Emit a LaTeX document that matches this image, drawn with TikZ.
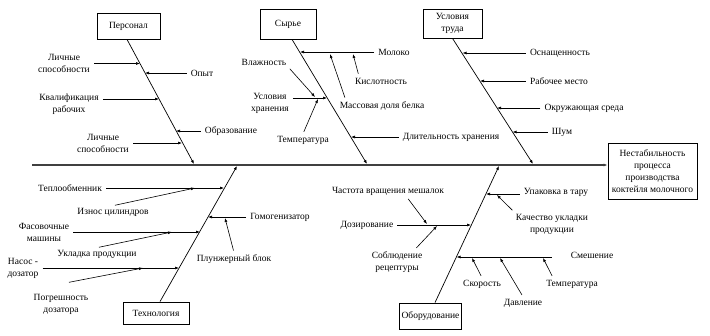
\documentclass[tikz,border=0pt]{standalone}
\usepackage{fontspec}
\setmainfont{Liberation Serif}
\usetikzlibrary{calc,positioning,arrows.meta}

\begin{document}
\begin{tikzpicture}[
    x=1pt, y=-1pt,
    box/.style={rectangle, draw, line width=0.8pt, align=center, fill=white, inner sep=2pt},
    lbl/.style={align=center, inner sep=2pt},
    arrow/.style={-{Latex[length=4pt,width=3pt]}, line width=0.6pt, shorten <=2pt},
    bone/.style={-{Latex[length=4pt,width=3pt]}, line width=0.7pt},
    font=\fontsize{9.5}{12}\selectfont
]
    \useasboundingbox (0,0) rectangle (710,335);

    % Effect and spine
    \node[box, minimum width=89pt, minimum height=56pt] (eff) at (652.5,171) {Нестабильность\\процесса\\производства\\коктейля молочного};
    \coordinate (tail) at (32,165);
    \draw[bone, line width=1.2pt, black!75] (tail) -- (eff.west |- tail);

    % Personnel
    \node[box, minimum width=63pt, minimum height=26pt] (pers) at (128.5,26) {Персонал};
    \coordinate (persEnd) at (194,164);
    \draw[bone] ([xshift=-1.5pt]pers.south) -- (persEnd);

    \node[lbl] (lich1) at (64,63.5) {Личные\\способности};
    \node[lbl] (opyt) at (202,73) {Опыт};
    \node[lbl] (kval) at (69,104) {Квалификация\\рабочих};
    \node[lbl] (obraz) at (231,131) {Образование};
    \node[lbl] (lich2) at (103,143) {Личные\\способности};

    \coordinate (tLich1) at (140,63.5);
    \coordinate (tOpyt) at (145,73);
    \coordinate (tKval) at (159,99);
    \coordinate (tObraz) at (176,131);
    \coordinate (tLich2) at (182,143);
    \draw[arrow] (lich1) -- (tLich1);
    \draw[arrow] (opyt) -- (tOpyt);
    \draw[arrow] (kval.east |- tKval) -- (tKval);
    \draw[arrow] (obraz) -- (tObraz);
    \draw[arrow] (lich2) -- (tLich2);

    % Raw materials
    \node[box, minimum width=56pt, minimum height=30pt] (syr) at (288,24) {Сырье};
    \coordinate (syrEnd) at (367,164);
    \draw[bone] ([xshift=4pt]syr.south) -- (syrEnd);

    \node[lbl] (moloko) at (394,52) {Молоко};
    \node[lbl] (kisl) at (381,81) {Кислотность};
    \node[lbl] (massa) at (382,106) {Массовая доля белка};
    \node[lbl] (vlazh) at (264,62) {Влажность};
    \node[lbl] (uslHr) at (270,103) {Условия\\хранения};
    \node[lbl] (temp1) at (303,140) {Температура};
    \node[lbl] (dlit) at (451,137) {Длительность хранения};

    \coordinate (tMoloko) at (300,52);
    \coordinate (tKisl) at (353,54);
    \coordinate (tMassa) at (330,54);
    \coordinate (tVlazh) at (315,97);
    \coordinate (tUslHr) at (327,98);
    \coordinate (tTemp1) at (318,99);
    \coordinate (tDlit) at (351,137);
    \draw[arrow] (moloko) -- (tMoloko);
    \draw[arrow] ([xshift=6pt]kisl.north west) -- (tKisl);
    \draw[arrow] ([xshift=8pt]massa.north west) -- (tMassa);
    \draw[arrow] (vlazh.south east) -- (tVlazh);
    \draw[arrow] (uslHr.east |- tUslHr) -- (tUslHr);
    \draw[arrow] (temp1.north) -- (tTemp1);
    \draw[arrow] (dlit) -- (tDlit);

    % Working conditions
    \node[box, minimum width=59pt, minimum height=29pt] (uslTr) at (452.5,23.5) {Условия\\труда};
    \coordinate (uslTrEnd) at (533,164);
    \draw[bone] (uslTr.south) -- (uslTrEnd);

    \node[lbl] (osn) at (560,53) {Оснащенность};
    \node[lbl] (rabM) at (559,81) {Рабочее место};
    \node[lbl] (okr) at (584,108) {Окружающая среда};
    \node[lbl] (shum) at (562,132) {Шум};

    \coordinate (tOsn) at (462.5,53);
    \coordinate (tRabM) at (480,81);
    \coordinate (tOkr) at (497,108);
    \coordinate (tShum) at (512.5,132);
    \draw[arrow] (osn) -- (tOsn);
    \draw[arrow] (rabM) -- (tRabM);
    \draw[arrow] (okr) -- (tOkr);
    \draw[arrow] (shum) -- (tShum);

    % Technology
    \node[box, minimum width=66pt, minimum height=22pt] (tech) at (156,313) {Технология};
    \coordinate (techEnd) at (237,166);
    \draw[bone] ([xshift=4pt]tech.north) -- (techEnd);

    \node[lbl] (teplo) at (70,188) {Теплообменник};
    \node[lbl] (iznos) at (113,212) {Износ цилиндров};
    \node[lbl] (fas) at (44,232) {Фасовочные\\машины};
    \node[lbl] (ukl) at (97,254) {Укладка продукции};
    \node[lbl] (nasos) at (23,268) {Насос -\\дозатор};
    \node[lbl] (pogr) at (61,304) {Погрешность\\дозатора};
    \node[lbl] (gomo) at (280,217) {Гомогенизатор};
    \node[lbl] (plunzh) at (234,259) {Плунжерный блок};

    \coordinate (tTeplo) at (224,188);
    \coordinate (tIznos) at (195,188);
    \coordinate (tFas) at (200,232);
    \coordinate (tUkl) at (172,232);
    \coordinate (tNasos) at (179,268);
    \coordinate (tPogr) at (143,268);
    \coordinate (tGomo) at (208,217);
    \coordinate (tPlunzh) at (225,218);
    \draw[arrow] (teplo) -- (tTeplo);
    \draw[arrow] (iznos.north) -- (tIznos);
    \draw[arrow] (fas) -- (tFas);
    \draw[arrow] (ukl.north) -- (tUkl);
    \draw[arrow] (nasos) -- (tNasos);
    \draw[arrow] ([shift={(6,-9)}]pogr.north) -- (tPogr);
    \draw[arrow] (gomo) -- (tGomo);
    \draw[arrow] (plunzh.north) -- (tPlunzh);

    % Equipment
    \node[box, minimum width=59pt, minimum height=26pt] (obor) at (430.5,316) {Оборудование};
    \coordinate (oborEnd) at (499,166);
    \draw[bone] ([xshift=4.5pt]obor.north) -- (oborEnd);

    \node[lbl] (upak) at (556,192) {Упаковка в тару};
    \node[lbl] (kach) at (552,224) {Качество укладки\\продукции};
    \node[lbl] (chast) at (388,191) {Частота вращения мешалок};
    \node[lbl] (doz) at (367,225) {Дозирование};
    \node[lbl] (sobl) at (397,262) {Соблюдение\\рецептуры};
    \node[lbl] (smesh) at (592,255) {Смешение};
    \node[lbl] (skor) at (482,284) {Скорость};
    \node[lbl] (davl) at (523,303) {Давление};
    \node[lbl] (temp2) at (572,284) {Температура};

    \coordinate (tUpak) at (486,194);
    \coordinate (tKach) at (497,195);
    \coordinate (tChast) at (427,224);
    \coordinate (tDoz) at (471,225);
    \coordinate (tSobl) at (437,226);
    \coordinate (tSmesh) at (456.5,257);
    \coordinate (tSkor) at (472,258);
    \coordinate (tDavl) at (500,258);
    \coordinate (tTemp2) at (543,258);
    \draw[arrow] (upak.west |- tUpak) -- (tUpak);
    \draw[arrow] (kach.north west) -- (tKach);
    \draw[arrow] ([xshift=19pt]chast.south) -- (tChast);
    \draw[arrow] (doz) -- (tDoz);
    \draw[arrow] ([xshift=18pt]sobl.north) -- (tSobl);
    \draw[arrow, shorten <=17pt] (smesh.west |- tSmesh) -- (tSmesh);
    \draw[arrow] (skor.north) -- (tSkor);
    \draw[arrow] (davl.north) -- (tDavl);
    \draw[arrow] ([xshift=-19pt]temp2.north) -- (tTemp2);
\end{tikzpicture}
\end{document}
